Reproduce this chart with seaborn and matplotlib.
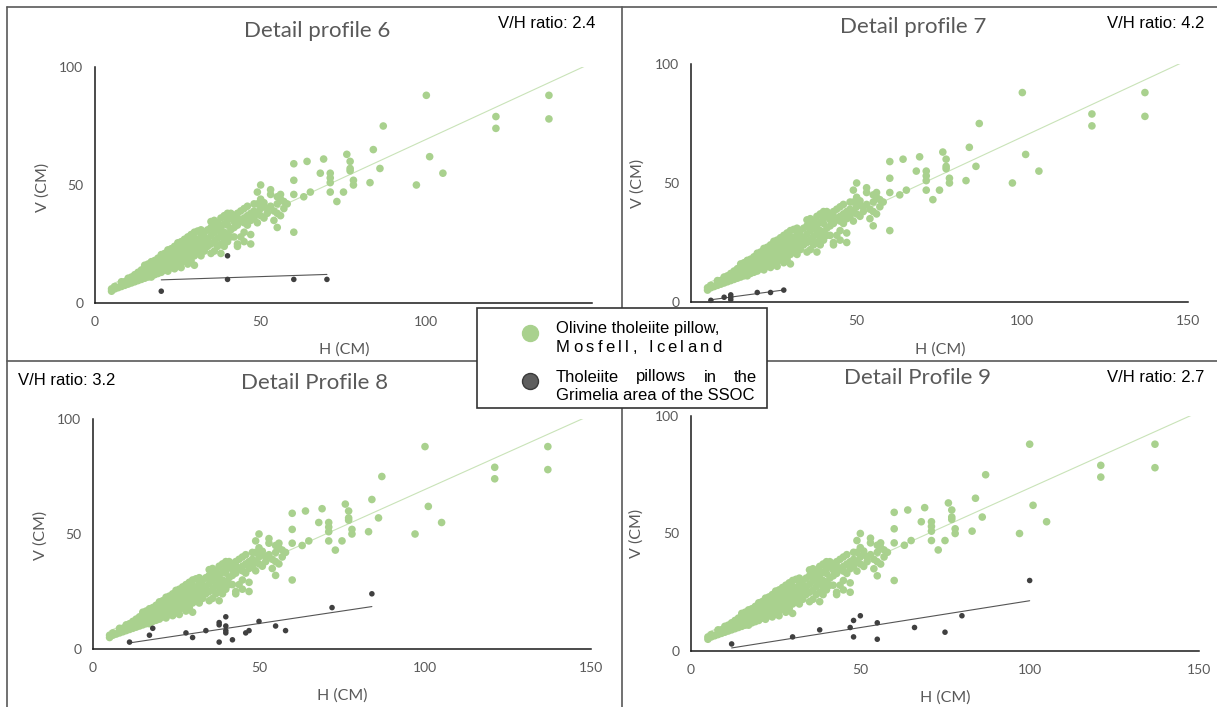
import numpy as np
import pandas as pd
import matplotlib
matplotlib.use("Agg")
import matplotlib.pyplot as plt
import seaborn as sns
from matplotlib.patches import Rectangle
from matplotlib.lines import Line2D

# ---------------------------------------------------------------------------
# Data: pillow dimensions, H (horizontal) and V (vertical), in cm
# ---------------------------------------------------------------------------
# Olivine tholeiite pillows, Mosfell, Iceland (same reference set in every panel)
mosfell_v_by_h = {
    5: [5, 6], 6: [6, 7], 7: [6.5], 8: [7, 8.5, 9], 9: [7.5, 9],
    10: [8, 9.5, 10.5], 11: [8.5, 10, 11], 12: [9, 10, 11.5, 12],
    13: [9.5, 11, 12.5, 13], 14: [10, 11.5, 13, 14],
    15: [10.5, 12, 13.5, 15, 16], 16: [11, 12.5, 14, 15.5, 16.5],
    17: [11, 13, 14.5, 16, 17.5], 18: [12, 13.5, 15, 16.5, 18],
    19: [12.5, 14, 16, 17.5, 19], 20: [13, 15, 16.5, 18, 19.5, 20.5],
    21: [14, 16, 17.5, 19, 21], 22: [13.5, 15.5, 17, 19.5, 21.5, 22.5],
    23: [15, 17.5, 19, 21, 23], 24: [14.5, 16.5, 18.5, 20.5, 22, 24],
    25: [16, 18, 20, 22.5, 24.5, 25.5], 26: [15, 17, 19.5, 21.5, 23.5, 26],
    27: [18, 20.5, 23, 25, 27], 28: [16.5, 19, 22, 24.5, 26.5, 28],
    29: [18, 21, 23.5, 26, 29], 30: [16, 20, 22.5, 25, 27.5, 30],
    31: [21, 24, 27, 30.5], 32: [20, 23, 26, 29, 31], 33: [22, 25, 28, 30],
    34: [24, 27, 31], 35: [21, 25, 28.5, 32, 34.5], 36: [22, 26, 30, 33, 35],
    37: [24, 27.5, 31, 34], 38: [21, 25, 29, 32, 36],
    39: [24, 27, 30, 33.5, 37], 40: [26, 29, 33, 35, 38],
    41: [28, 31, 36, 38], 42: [28, 32, 34.5, 37], 43: [24, 25, 33, 36, 38],
    44: [28, 35, 39], 45: [26, 30, 34, 36, 40], 46: [33, 37, 41],
    47: [25, 29, 35, 38], 48: [36, 39, 42], 49: [34, 38, 42, 47],
    50: [37, 40, 44, 50], 51: [36, 41, 42.5], 52: [38, 40], 53: [41, 46, 48],
    54: [35, 39], 55: [32, 38, 42, 45], 56: [37, 44, 46], 57: [40, 43],
    58: [42], 60: [30, 46, 52, 59], 63: [45], 64: [60], 65: [47], 68: [55],
    69: [61], 71: [47, 51, 53, 55], 73: [43], 75: [47], 76: [63],
    77: [56, 57, 60], 78: [50, 52], 83: [51], 84: [65], 86: [57], 87: [75],
    97: [50], 100: [88], 101: [62], 105: [55], 121: [74, 79], 137: [78, 88],
}

# Tholeiite pillows, Grimelia area of the SSOC, one set per detail profile
grim6_h = [20, 40, 40, 60, 70]
grim6_v = [5, 20, 10, 10, 10]
grim7_h = [6, 10, 12, 12, 12, 20, 24, 28]
grim7_v = [0.7, 2, 3, 2, 1, 4, 4, 5]
grim8_h = [11, 17, 18, 28, 30, 34, 38, 38, 38, 40, 40, 40, 40, 42, 46, 47,
           50, 55, 58, 72, 84]
grim8_v = [3, 6, 9, 7, 5, 8, 3, 10.5, 11.5, 14, 10, 8, 7, 4, 7, 8,
           12, 10, 8, 18, 24]
grim9_h = [12, 30, 38, 47, 48, 50, 48, 55, 55, 66, 75, 80, 100]
grim9_v = [3, 6, 9, 10, 13, 15, 6, 12, 5, 10, 8, 15, 30]

panel_titles = ["Detail profile 6", "Detail profile 7",
                "Detail Profile 8", "Detail Profile 9"]
ratio_labels = ["V/H ratio: 2.4", "V/H ratio: 4.2",
                "V/H ratio: 3.2", "V/H ratio: 2.7"]
legend_labels = [["Olivine tholeiite pillow,", "Mosfell, Iceland"],
                 ["Tholeiite pillows in the", "Grimelia area of the SSOC"]]
x_ticks = [0, 50, 100, 150]
y_ticks = [0, 50, 100]

mosfell = pd.DataFrame(
    [(h, v) for h, vs in mosfell_v_by_h.items() for v in vs], columns=["H", "V"]
)
grimelia = [
    pd.DataFrame({"H": grim6_h, "V": grim6_v}),
    pd.DataFrame({"H": grim7_h, "V": grim7_v}),
    pd.DataFrame({"H": grim8_h, "V": grim8_v}),
    pd.DataFrame({"H": grim9_h, "V": grim9_v}),
]

# ---------------------------------------------------------------------------
# Style
# ---------------------------------------------------------------------------
sns.set_style("white")
plt.rcParams["font.family"] = ["Lato", "DejaVu Sans"]

GREEN = "#a9d18e"
GREEN_LINE = "#c9e3b8"
DARK = "#404040"
GREY_TXT = "#595959"
ARIAL = ["Liberation Sans", "DejaVu Sans"]

W, H = 1217, 707
fig = plt.figure(figsize=(W / 100, H / 100), dpi=100)


def fx(x):
    return x / W


def fy(y):
    return 1 - y / H


# Panel axes rectangles, in pixels: (x of H=0, x of H=150, y of V=100, y of V=0)
panel_px = [
    (95, 592, 67, 303),
    (691, 1188, 64, 302),
    (93, 591, 419, 649),
    (691, 1199, 416, 651),
]
title_px = [(317, 31), (913, 27), (315, 383), (918, 378)]
ratio_px = [(595, 23, "right"), (1204, 23, "right"),
            (18, 381, "left"), (1204, 378, "right")]
xlabel_px = [(344, 350), (940, 350), (342, 696), (945, 698)]
ylabel_px = [(43, 187), (638, 183), (41, 535), (637, 533)]
# x tick labels that sit under the central legend box
covered_xlabels = {0: [150], 1: [0]}

for i, (x0, x1, y0, y1) in enumerate(panel_px):
    ax = fig.add_axes([fx(x0), fy(y1), (x1 - x0) / W, (y1 - y0) / H])

    # Mosfell reference data with its trend line
    sns.scatterplot(data=mosfell, x="H", y="V", ax=ax, color=GREEN, s=30,
                    edgecolor="none", clip_on=False, zorder=3, legend=False)
    k, b = np.polyfit(mosfell["H"], mosfell["V"], 1)
    xs = np.array([mosfell["H"].min(), 150])
    ax.plot(xs, k * xs + b, color=GREEN_LINE, lw=0.8, zorder=2)

    # Grimelia pillows with their own trend line
    g = grimelia[i]
    k2, b2 = np.polyfit(g["H"], g["V"], 1)
    xs2 = np.array([g["H"].min(), g["H"].max()])
    ax.plot(xs2, k2 * xs2 + b2, color="#555555", lw=0.8, zorder=4)
    sns.scatterplot(data=g, x="H", y="V", ax=ax, color=DARK, s=16,
                    edgecolor="none", clip_on=False, zorder=5, legend=False)

    ax.set_xlim(0, 150)
    ax.set_ylim(0, 100)
    ax.set_xticks(x_ticks)
    hidden = covered_xlabels.get(i, [])
    ax.set_xticklabels(["" if t in hidden else str(t) for t in x_ticks])
    ax.set_yticks(y_ticks)
    ax.set_xlabel("")
    ax.set_ylabel("")
    ax.patch.set_alpha(0)
    for side in ("top", "right"):
        ax.spines[side].set_visible(False)
    for side in ("left", "bottom"):
        ax.spines[side].set_color("#1a1a1a")
        ax.spines[side].set_linewidth(1.1)
    ax.tick_params(axis="x", direction="inout", length=11, width=1.1,
                   color="#1a1a1a", labelsize=10, labelcolor=GREY_TXT, pad=4)
    ax.tick_params(axis="y", direction="inout", length=9, width=1.1,
                   color="#1a1a1a", labelsize=10, labelcolor=GREY_TXT, pad=4)

    tx, ty = title_px[i]
    fig.text(fx(tx), fy(ty), panel_titles[i], ha="center", va="center",
             fontsize=16, color=GREY_TXT)
    rx, ry, rha = ratio_px[i]
    fig.text(fx(rx), fy(ry), ratio_labels[i], ha=rha, va="center",
             fontsize=12, color="black", family=ARIAL)
    lx, ly = xlabel_px[i]
    fig.text(fx(lx), fy(ly), "H (CM)", ha="center", va="center",
             fontsize=11.5, color=GREY_TXT)
    vx, vy = ylabel_px[i]
    fig.text(fx(vx), fy(vy), "V (CM)", ha="center", va="center",
             fontsize=11.5, color=GREY_TXT, rotation=90)

# Frame and dividers between the four panels
frame_kw = dict(transform=fig.transFigure, color="#595959", lw=1.2, zorder=0)
fig.add_artist(Line2D([fx(7), fx(7)], [fy(7), fy(707)], **frame_kw))
fig.add_artist(Line2D([fx(7), fx(1217)], [fy(7), fy(7)], **frame_kw))
fig.add_artist(Line2D([fx(622), fx(622)], [fy(7), fy(707)], **frame_kw))
fig.add_artist(Line2D([fx(7), fx(1217)], [fy(361), fy(361)], **frame_kw))

# Legend box in the middle of the figure
fig.add_artist(Rectangle((fx(477), fy(408)), (767 - 477) / W, (408 - 308) / H,
                         transform=fig.transFigure, facecolor="white",
                         edgecolor="#333333", lw=1.2, zorder=10))
fig.add_artist(Line2D([fx(530)], [fy(333)], transform=fig.transFigure,
                      marker="o", markersize=11.5, color=GREEN, ls="none",
                      markeredgecolor=GREEN, zorder=11))
fig.add_artist(Line2D([fx(530)], [fy(381)], transform=fig.transFigure,
                      marker="o", markersize=11.5, color="#5e5e5e", ls="none",
                      markeredgecolor="#3a3a3a", zorder=11))

renderer = fig.canvas.get_renderer()
leg_kw = dict(fontsize=12, color="black", family=ARIAL, va="center",
              ha="left", zorder=12)


def text_width(s):
    t = fig.text(0, 0, s, **leg_kw)
    w = t.get_window_extent(renderer).width
    t.remove()
    return w


def spread_text(pieces, x0, x1, y):
    """Place pieces so the line runs exactly from x0 to x1 (justified)."""
    space_w = text_width("M M") - text_width("MM")
    widths = [space_w if p == " " else text_width(p) for p in pieces]
    gap = (x1 - x0 - sum(widths)) / (len(pieces) - 1)
    x = x0
    for p, w in zip(pieces, widths):
        if p != " ":
            fig.text(fx(x), fy(y), p, **leg_kw)
        x += w + gap


fig.text(fx(556), fy(329), legend_labels[0][0], **leg_kw)
spread_text(list(legend_labels[0][1]), 556, 722, 347)
spread_text(legend_labels[1][0].split(" "), 556, 757, 377)
fig.text(fx(556), fy(395), legend_labels[1][1], **leg_kw)

fig.savefig("out.png", dpi=100)
